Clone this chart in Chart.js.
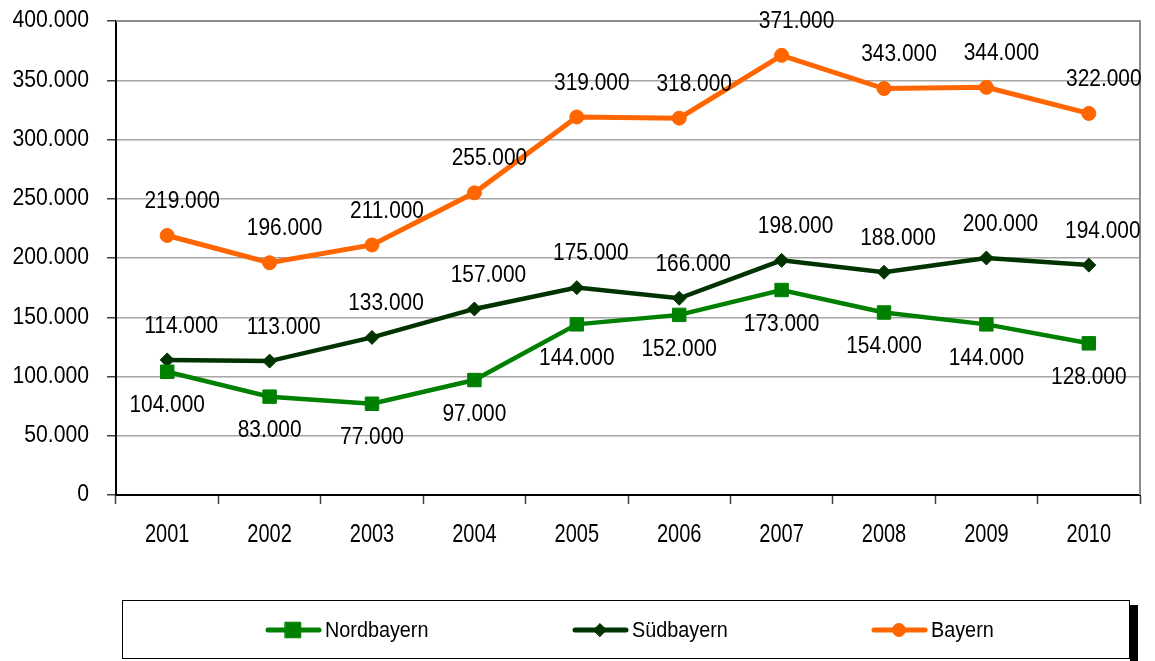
<!DOCTYPE html>
<html>
<head>
<meta charset="utf-8">
<script src="https://cdn.jsdelivr.net/npm/chart.js@4.4.1/dist/chart.umd.min.js"></script>
<style>
html, body { margin: 0; padding: 0; background: #fff; }
#wrap { width: 1155px; height: 661px; position: relative; }
</style>
</head>
<body>
<div id="wrap"><canvas id="chart" width="1155" height="661"></canvas></div>
<script>
const years = ['2001', '2002', '2003', '2004', '2005', '2006', '2007', '2008', '2009', '2010'];
const nordbayern = [104000, 83000, 77000, 97000, 144000, 152000, 173000, 154000, 144000, 128000];
const suedbayern = [114000, 113000, 133000, 157000, 175000, 166000, 198000, 188000, 200000, 194000];
const bayern = [219000, 196000, 211000, 255000, 319000, 318000, 371000, 343000, 344000, 322000];
const seriesNames = ['Nordbayern', 'Südbayern', 'Bayern'];
const yMin = 0;
const yMax = 400000;
const yStep = 50000;

const FONT = "'Liberation Sans', Arial, sans-serif";

function fmt(v) {
    return String(v).replace(/\B(?=(\d{3})+(?!\d))/g, '.');
}

// the original uses a narrow face, so squeeze the text horizontally
function narrowText(ctx, text, x, y, size, sx, align) {
    ctx.save();
    ctx.translate(x, y);
    ctx.scale(sx, 1);
    ctx.font = size + 'px ' + FONT;
    ctx.textAlign = align;
    ctx.textBaseline = 'middle';
    ctx.fillStyle = '#000';
    ctx.fillText(text, 0, 0);
    ctx.restore();
}

// where the value labels sit relative to their point
const labelOffsets = [
    { dx: 0, dy: 34 },
    { dx: 14, dy: -34 },
    { dx: 15, dy: -34 }
];

const valueLabels = {
    id: 'valueLabels',
    afterDatasetsDraw(chart) {
        const ctx = chart.ctx;
        chart.data.datasets.forEach((ds, i) => {
            const off = labelOffsets[i];
            chart.getDatasetMeta(i).data.forEach((pt, j) => {
                narrowText(ctx, fmt(ds.data[j]), pt.x + off.dx, pt.y + off.dy, 24, 0.87, 'center');
            });
        });
    }
};

const axisLabels = {
    id: 'axisLabels',
    afterDraw(chart) {
        const ctx = chart.ctx;
        const ys = chart.scales.y;
        ys.ticks.forEach((t, i) => {
            narrowText(ctx, fmt(t.value), 89, ys.getPixelForTick(i), 23, 0.92, 'right');
        });
        const xs = chart.scales.x;
        chart.data.labels.forEach((lab, i) => {
            narrowText(ctx, lab, xs.getPixelForTick(i), 535, 25, 0.8, 'center');
        });
    }
};

// gray top and right edge of the plot area
const plotFrame = {
    id: 'plotFrame',
    beforeDatasetsDraw(chart) {
        const { ctx, chartArea: a } = chart;
        ctx.save();
        ctx.strokeStyle = '#8c8c8c';
        ctx.lineWidth = 2;
        ctx.beginPath();
        ctx.moveTo(a.left, a.top);
        ctx.lineTo(a.right, a.top);
        ctx.lineTo(a.right, a.bottom);
        ctx.stroke();
        ctx.restore();
    }
};

// boxed legend under the chart
const legendRadius = [11, 6.5, 6.5];
const boxLegend = {
    id: 'boxLegend',
    afterDraw(chart) {
        const ctx = chart.ctx;
        ctx.save();
        ctx.fillStyle = '#000';
        ctx.fillRect(1130, 605, 8, 56);
        ctx.fillStyle = '#fff';
        ctx.fillRect(122, 601, 1008, 58);
        ctx.strokeStyle = '#000';
        ctx.lineWidth = 1;
        ctx.strokeRect(122.5, 600.5, 1007, 58);

        const cy = 630;
        const starts = [266, 573, 872];
        chart.data.datasets.forEach((ds, i) => {
            const x0 = starts[i];
            ctx.strokeStyle = ds.borderColor;
            ctx.lineWidth = 5;
            ctx.lineCap = 'round';
            ctx.beginPath();
            ctx.moveTo(x0 + 2, cy);
            ctx.lineTo(x0 + 53, cy);
            ctx.stroke();
            ctx.fillStyle = ds.backgroundColor;
            ctx.lineWidth = 1;
            Chart.helpers.drawPoint(ctx, {
                pointStyle: ds.pointStyle,
                radius: legendRadius[i],
                rotation: 0,
                borderWidth: 1
            }, x0 + 27, cy);
            narrowText(ctx, ds.label, x0 + 59, cy + 1, 22, 0.9, 'left');
        });
        ctx.restore();
    }
};

new Chart(document.getElementById('chart'), {
    type: 'line',
    data: {
        labels: years,
        datasets: [
            {
                label: seriesNames[0],
                data: nordbayern,
                borderColor: '#008000',
                backgroundColor: '#008000',
                borderWidth: 4.5,
                pointStyle: 'rect',
                pointRadius: 9.5,
                pointBorderWidth: 1,
                tension: 0
            },
            {
                label: seriesNames[1],
                data: suedbayern,
                borderColor: '#003300',
                backgroundColor: '#003300',
                borderWidth: 4.5,
                pointStyle: 'rectRot',
                pointRadius: 7,
                pointBorderWidth: 1,
                tension: 0
            },
            {
                label: seriesNames[2],
                data: bayern,
                borderColor: '#ff6600',
                backgroundColor: '#ff6600',
                borderWidth: 5,
                pointStyle: 'circle',
                pointRadius: 7,
                pointBorderWidth: 1,
                tension: 0
            }
        ]
    },
    options: {
        responsive: false,
        animation: false,
        layout: { padding: { top: 21, right: 15, left: 0, bottom: 0 } },
        plugins: {
            legend: { display: false },
            tooltip: { enabled: false }
        },
        scales: {
            x: {
                offset: true,
                afterFit(scale) {
                    scale.height = 166;
                    scale.paddingLeft = 0;
                    scale.paddingRight = 0;
                },
                grid: {
                    offset: true,
                    drawOnChartArea: false,
                    tickLength: 9,
                    tickColor: '#404040',
                    tickWidth: 1.5
                },
                border: { color: '#000', width: 2 },
                ticks: { display: false }
            },
            y: {
                min: yMin,
                max: yMax,
                afterFit(scale) {
                    scale.width = 116;
                    scale.paddingTop = 0;
                    scale.paddingBottom = 0;
                },
                grid: {
                    color: '#a6a6a6',
                    lineWidth: 1.5,
                    tickLength: 9,
                    tickColor: '#404040'
                },
                border: { color: '#000', width: 2 },
                ticks: { display: false, stepSize: yStep }
            }
        }
    },
    plugins: [plotFrame, valueLabels, axisLabels, boxLegend]
});
</script>
</body>
</html>
